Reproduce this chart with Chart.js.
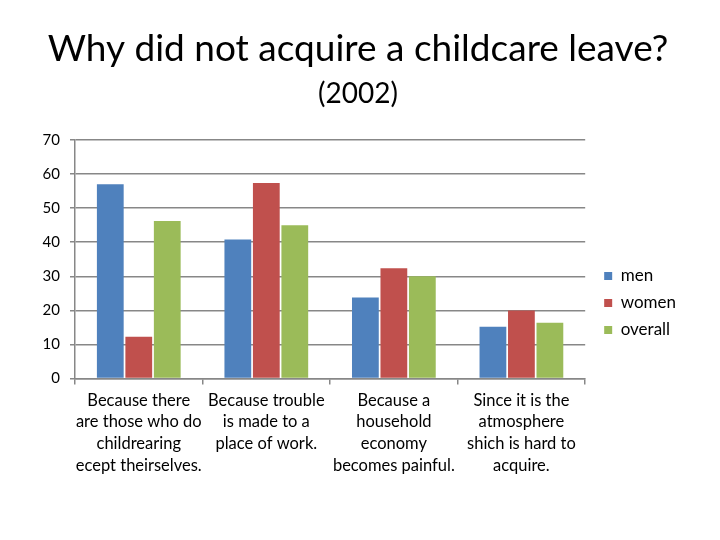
<!DOCTYPE html>
<html>
<head>
<meta charset="utf-8">
<script src="https://cdn.jsdelivr.net/npm/chart.js@4/dist/chart.umd.min.js"></script>
<style>
  html, body { margin: 0; padding: 0; background: #fff; }
  #wrap { width: 720px; height: 540px; }
</style>
</head>
<body>
<div id="wrap"><canvas id="chart" width="720" height="540"></canvas></div>
<script>
// chart data
const categories = [
    ['Because there', 'are those who do', 'childrearing', 'ecept theirselves.'],
    ['Because trouble', 'is made to a', 'place of work.'],
    ['Because a', 'household', 'economy', 'becomes painful.'],
    ['Since it is the', 'atmosphere', 'shich is hard to', 'acquire.']
];
const men = [57, 40.8, 23.8, 15.2];
const women = [12.3, 57.4, 32.4, 20];
const overall = [46.2, 45, 30, 16.4];
const yTicks = [0, 10, 20, 30, 40, 50, 60, 70];

const FONT = 'Lato, "Open Sans", sans-serif';
const GRID = '#878787';

new Chart(document.getElementById('chart'), {
    type: 'bar',
    data: {
        labels: categories,
        datasets: [
            { label: 'men', data: men, backgroundColor: '#4F81BD' },
            { label: 'women', data: women, backgroundColor: '#C0504D' },
            { label: 'overall', data: overall, backgroundColor: '#9BBB59' }
        ]
    },
    options: {
        responsive: false,
        animation: false,
        categoryPercentage: 0.67,
        barPercentage: 0.94,
        layout: { padding: { left: 30, right: 34, top: 27, bottom: 59 } },
        plugins: {
            title: {
                display: true,
                text: 'Why did not acquire a childcare leave?',
                color: '#000',
                font: { family: FONT, size: 37, weight: 'normal' },
                padding: { top: 0, bottom: 6 }
            },
            subtitle: {
                display: true,
                text: '(2002)',
                color: '#000',
                font: { family: FONT, size: 28, weight: 'normal' },
                padding: { top: 0, bottom: 29 }
            },
            legend: {
                position: 'right',
                align: 'center',
                // empty title only pushes the items down
                title: {
                    display: true,
                    text: '',
                    font: { size: 10, lineHeight: 1 },
                    padding: { top: 88, bottom: 0 }
                },
                labels: {
                    boxWidth: 8,
                    boxHeight: 8,
                    padding: 10,
                    color: '#000',
                    font: { family: FONT, size: 17 }
                }
            },
            tooltip: { enabled: false }
        },
        scales: {
            x: {
                grid: {
                    offset: true,
                    drawOnChartArea: false,
                    tickLength: 6,
                    color: GRID,
                    lineWidth: 1.5
                },
                border: { color: GRID, width: 1.5 },
                ticks: {
                    color: '#000',
                    maxRotation: 0,
                    autoSkip: false,
                    padding: 5,
                    font: { family: FONT, size: 16.5, lineHeight: 1.31 }
                }
            },
            y: {
                min: 0,
                max: 70,
                afterBuildTicks: (scale) => {
                    scale.ticks = yTicks.map(v => ({ value: v }));
                },
                afterFit: (scale) => { scale.width = 45; },
                grid: { color: GRID, lineWidth: 1.5, tickLength: 5 },
                border: { color: GRID, width: 1.5 },
                ticks: {
                    color: '#000',
                    padding: 10,
                    font: { family: FONT, size: 15 }
                }
            },
            // blank axis, only keeps a gap between plot and legend
            gap: {
                type: 'linear',
                position: 'right',
                display: true,
                afterFit: (scale) => { scale.width = 9; },
                grid: { display: false },
                border: { display: false },
                ticks: { display: false }
            }
        }
    }
});
</script>
</body>
</html>
